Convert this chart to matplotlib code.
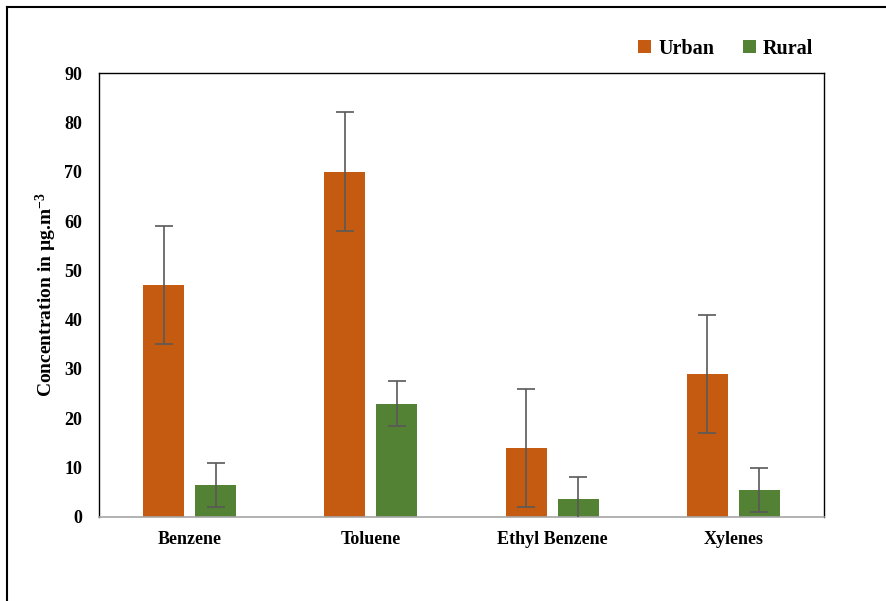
import matplotlib
matplotlib.use("Agg")
import matplotlib.pyplot as plt
import numpy as np

plt.rcParams['font.family'] = ['Liberation Serif', 'DejaVu Serif']
plt.rcParams['font.weight'] = 'bold'
plt.rcParams['mathtext.fontset'] = 'custom'
plt.rcParams['mathtext.rm'] = 'Liberation Serif'
plt.rcParams['mathtext.bf'] = 'Liberation Serif:bold'
plt.rcParams['axes.unicode_minus'] = False

categories = ["Benzene", "Toluene", "Ethyl Benzene", "Xylenes"]
urban = [47, 70, 14, 29]
rural = [6.5, 23, 3.6, 5.5]
urban_err = [12, 12, 12, 12]
rural_err = [4.5, 4.5, 4.5, 4.5]
y_ticks = [0, 10, 20, 30, 40, 50, 60, 70, 80, 90]

urban_color = "#C55A11"
rural_color = "#548235"
err_color = "#595959"

fig = plt.figure(figsize=(8.86, 6.01), dpi=100)
ax = fig.add_axes([0.1117, 0.1398, 0.9300 - 0.1117, 0.8785 - 0.1398])

x = np.arange(len(categories))
w = 0.227
gap = 0.06
ax.bar(x - (w + gap) / 2, urban, w, color=urban_color, label="Urban", zorder=2)
ax.bar(x + (w + gap) / 2, rural, w, color=rural_color, label="Rural", zorder=2)
ax.errorbar(x - (w + gap) / 2, urban, yerr=urban_err, fmt="none",
            ecolor=err_color, elinewidth=1.2, capsize=6.5, capthick=1.2, zorder=3)
ax.errorbar(x + (w + gap) / 2, rural, yerr=rural_err, fmt="none",
            ecolor=err_color, elinewidth=1.2, capsize=6.5, capthick=1.2, zorder=3)

ax.set_xlim(-0.5, len(categories) - 0.5)
ax.set_ylim(0, 90)
ax.set_yticks(y_ticks)
ax.set_xticks(x)
ax.set_xticklabels(categories, fontsize=13, fontweight="bold")
ax.tick_params(axis="both", length=0, labelsize=13)
ax.tick_params(axis="y", pad=12)
ax.tick_params(axis="x", pad=10)
for lbl in ax.get_yticklabels():
    lbl.set_fontweight("bold")

for side in ("left", "top", "right"):
    ax.spines[side].set_color("black")
    ax.spines[side].set_linewidth(1.0)
ax.spines["bottom"].set_color("#A6A6A6")
ax.spines["bottom"].set_linewidth(1.2)

ax.set_ylabel("Concentration in µg.m$\\mathbf{^{-3}}$", fontsize=14,
              fontweight="bold", labelpad=4)

leg = ax.legend(loc="center right", bbox_to_anchor=(1.01, 1.055), ncol=2, frameon=False,
                prop={"size": 14.5, "weight": "bold"}, handlelength=0.65, handleheight=0.65,
                handletextpad=0.35, columnspacing=1.4)

# Outer frame on the top and left edges
fig.add_artist(plt.Line2D([6.5 / 886, 1.0], [1 - 7 / 601, 1 - 7 / 601],
                          transform=fig.transFigure, color="black", linewidth=1.5))
fig.add_artist(plt.Line2D([6.5 / 886, 6.5 / 886], [0.0, 1 - 7 / 601],
                          transform=fig.transFigure, color="black", linewidth=1.5))

fig.savefig("out.png", dpi=100)
